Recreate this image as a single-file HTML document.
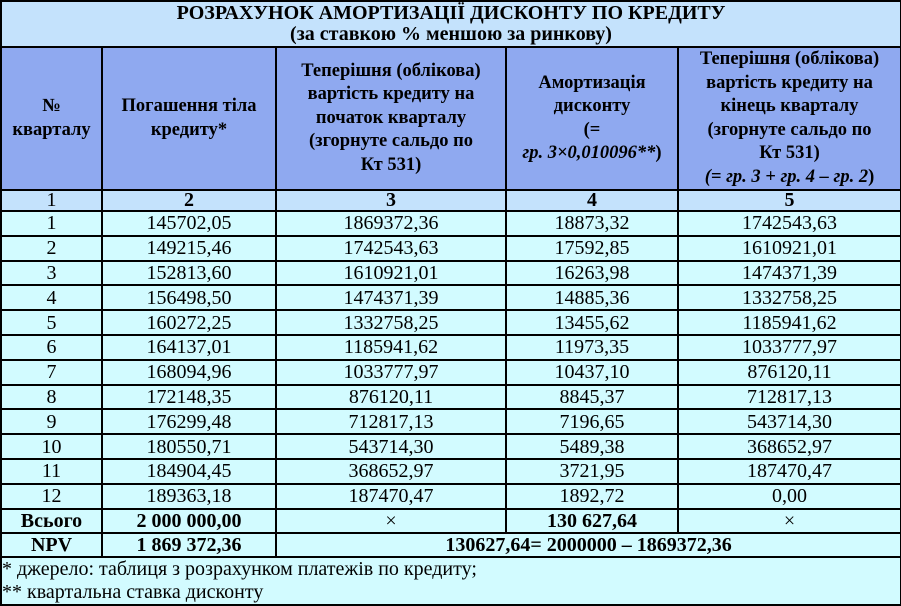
<!DOCTYPE html>
<html><head><meta charset="utf-8">
<style>
html,body{margin:0;padding:0;background:#fff;}
body{width:901px;height:604px;overflow:hidden;font-family:"Liberation Serif","Noto Serif CJK SC",serif;color:#000;}
table{border-collapse:collapse;table-layout:fixed;width:900px;border:2px solid #000;}
td{border:2px solid #000;text-align:center;padding:0;font-size:20px;line-height:20px;overflow:hidden;white-space:nowrap;}
.t{background:#c4e2fc;font-weight:bold;line-height:21px;font-size:20px;}
.h{background:#8fa9f0;font-weight:bold;line-height:23.5px;height:131px;font-size:18.5px;}
.n{background:#c4e2fc;height:19px;line-height:19px;}
.d td{background:#d2fbff;height:22.8px;line-height:22px;}
.b td{background:#d2fbff;font-weight:bold;height:22px;line-height:22px;}
.f{background:#d2fbff;text-align:left;font-size:20px;line-height:23px;height:45px;}
</style></head><body>
<table>
<colgroup><col style="width:101px"><col style="width:174px"><col style="width:230px"><col style="width:172px"><col style="width:223px"></colgroup>
<tr><td class="t" colspan="5" style="height:44px">РОЗРАХУНОК АМОРТИЗАЦІЇ ДИСКОНТУ ПО КРЕДИТУ<br>(за ставкою % меншою за ринкову)</td></tr>
<tr>
<td class="h">№<br>кварталу</td>
<td class="h">Погашення тіла<br>кредиту*</td>
<td class="h">Теперішня (облікова)<br>вартість кредиту на<br>початок кварталу<br>(згорнуте сальдо по<br>Кт 531)</td>
<td class="h">Амортизація<br>дисконту<br>(=<br><i>гр. 3×0,010096**</i>)</td>
<td class="h">Теперішня (облікова)<br>вартість кредиту на<br>кінець кварталу<br>(згорнуте сальдо по<br>Кт 531)<br><i>(= гр. 3 + гр. 4 – гр. 2</i>)</td>
</tr>
<tr><td class="n">1</td><td class="n"><b>2</b></td><td class="n"><b>3</b></td><td class="n"><b>4</b></td><td class="n"><b>5</b></td></tr>
<tbody id="rows"></tbody>
<tr class="b"><td>Всього</td><td>2 000 000,00</td><td style="font-weight:normal">×</td><td>130 627,64</td><td style="font-weight:normal">×</td></tr>
<tr class="b"><td>NPV</td><td>1 869 372,36</td><td colspan="3">130627,64= 2000000 – 1869372,36</td></tr>
<tr><td class="f" colspan="5">* джерело: таблиця з розрахунком платежів по кредиту;<br>** квартальна ставка дисконту</td></tr>
</table>
<script>
const quarters=["1","2","3","4","5","6","7","8","9","10","11","12"];
const principal=["145702,05","149215,46","152813,60","156498,50","160272,25","164137,01","168094,96","172148,35","176299,48","180550,71","184904,45","189363,18"];
const startValue=["1869372,36","1742543,63","1610921,01","1474371,39","1332758,25","1185941,62","1033777,97","876120,11","712817,13","543714,30","368652,97","187470,47"];
const amort=["18873,32","17592,85","16263,98","14885,36","13455,62","11973,35","10437,10","8845,37","7196,65","5489,38","3721,95","1892,72"];
const endValue=["1742543,63","1610921,01","1474371,39","1332758,25","1185941,62","1033777,97","876120,11","712817,13","543714,30","368652,97","187470,47","0,00"];
const tb=document.getElementById('rows');
quarters.forEach((q,i)=>{
  const tr=document.createElement('tr');
  tr.className='d';
  
  
  [q,principal[i],startValue[i],amort[i],endValue[i]].forEach(v=>{
    const td=document.createElement('td');td.textContent=v;tr.appendChild(td);
  });
  tb.appendChild(tr);
});
</script>
</body></html>
